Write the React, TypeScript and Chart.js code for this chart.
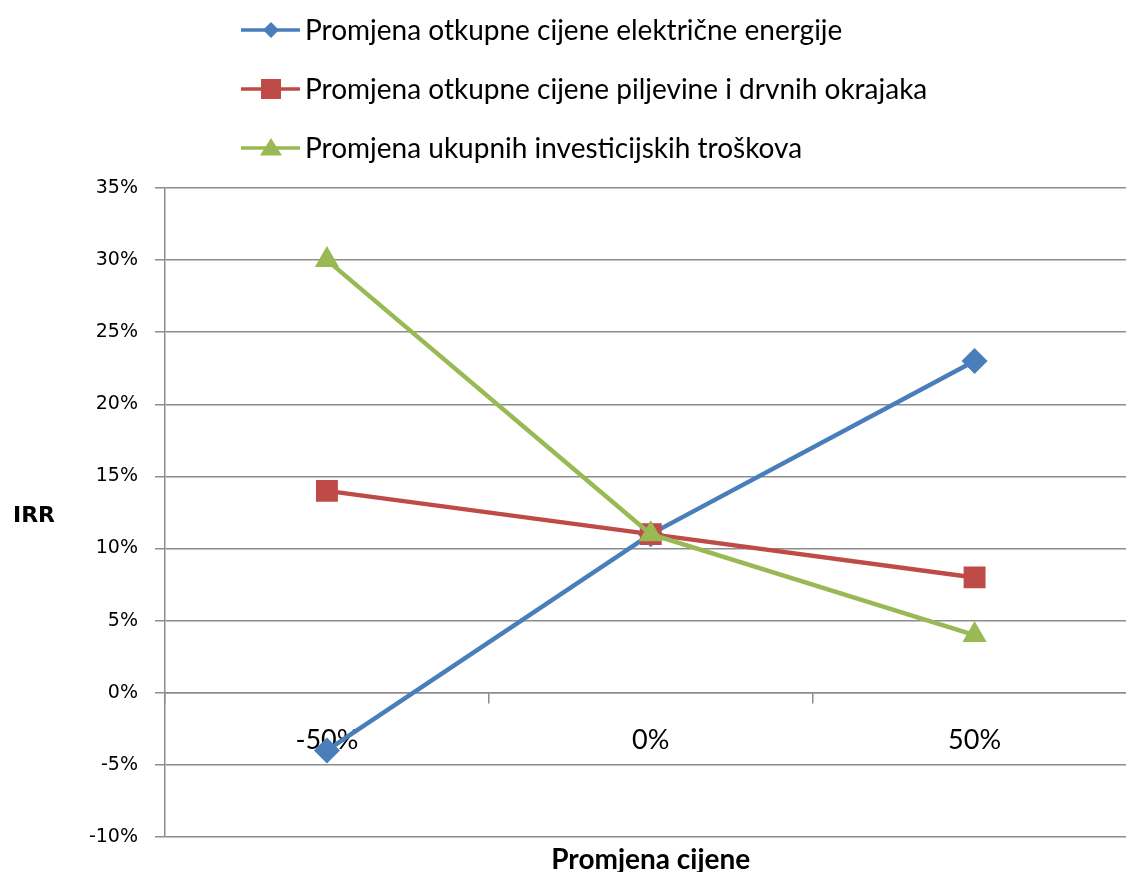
import React, { useEffect, useRef } from 'react';
import { Chart, registerables } from 'chart.js';

Chart.register(...registerables);

const categories: string[] = ['-50%', '0%', '50%'];
const seriesNames: string[] = [
  'Promjena otkupne cijene električne energije',
  'Promjena otkupne cijene piljevine i drvnih okrajaka',
  'Promjena ukupnih investicijskih troškova',
];
const electricityPrice: number[] = [-4, 11, 23];
const sawdustPrice: number[] = [14, 11, 8];
const investmentCost: number[] = [30, 11, 4];
const yMin = -10;
const yMax = 35;
const yStep = 5;
const yAxisTitle = 'IRR';
const xAxisTitle = 'Promjena cijene';

const BLUE = '#4a7ebb';
const RED = '#be4b48';
const GREEN = '#98b954';
const GRID = '#8c8c8c';

const LEGEND_FONT = '28px Lato, "Open Sans", sans-serif';

function drawMarker(ctx: CanvasRenderingContext2D, style: string, x: number, y: number, s: number, color: string) {
  ctx.save();
  ctx.fillStyle = color;
  ctx.beginPath();
  if (style === 'rectRot') {
    ctx.moveTo(x, y - s);
    ctx.lineTo(x + s, y);
    ctx.lineTo(x, y + s);
    ctx.lineTo(x - s, y);
  } else if (style === 'rect') {
    ctx.rect(x - s, y - s, 2 * s, 2 * s);
  } else {
    ctx.moveTo(x, y - s);
    ctx.lineTo(x + s * 1.1, y + s * 0.75);
    ctx.lineTo(x - s * 1.1, y + s * 0.75);
  }
  ctx.closePath();
  ctx.fill();
  ctx.restore();
}

const extrasPlugin = {
  id: 'extras',
  afterDraw(chart: any) {
    const ctx: CanvasRenderingContext2D = chart.ctx;
    const area = chart.chartArea;
    ctx.save();
    // custom vertical legend
    const legendLeft = 241;
    const legendTop = 30;
    const rowGap = 59;
    const styles = ['rectRot', 'rect', 'triangle'];
    const sizes = [8, 10, 10];
    chart.data.datasets.forEach((ds: any, i: number) => {
      const y = legendTop + i * rowGap;
      ctx.strokeStyle = ds.borderColor;
      ctx.lineWidth = 3.5;
      ctx.beginPath();
      ctx.moveTo(legendLeft, y);
      ctx.lineTo(legendLeft + 59, y);
      ctx.stroke();
      drawMarker(ctx, styles[i], legendLeft + 30, y, sizes[i], ds.borderColor);
      ctx.fillStyle = '#000';
      ctx.font = LEGEND_FONT;
      ctx.textAlign = 'left';
      ctx.textBaseline = 'middle';
      ctx.fillText(ds.label, legendLeft + 64, y + 1);
    });
    // y axis title (horizontal, Excel style)
    ctx.fillStyle = '#000';
    ctx.font = 'bold 22px "DejaVu Sans", sans-serif';
    ctx.textAlign = 'center';
    ctx.textBaseline = 'middle';
    ctx.fillText(yAxisTitle, 34, (area.top + area.bottom) / 2 + 4);
    // x axis title
    ctx.font = 'bold 28px Lato, "Open Sans", sans-serif';
    ctx.fillText(xAxisTitle, (area.left + area.right) / 2, 860);
    ctx.restore();
  },
};

export default function App() {
  const canvasRef = useRef<HTMLCanvasElement | null>(null);

  useEffect(() => {
    if (!canvasRef.current) return;
    const chart = new Chart(canvasRef.current, {
      type: 'line',
      data: {
        labels: categories,
        datasets: [
          {
            label: seriesNames[0],
            data: electricityPrice,
            borderColor: BLUE,
            backgroundColor: BLUE,
            borderWidth: 4.5,
            pointStyle: 'rectRot',
            pointRadius: 13,
            pointBorderWidth: 0,
            order: 3,
          },
          {
            label: seriesNames[1],
            data: sawdustPrice,
            borderColor: RED,
            backgroundColor: RED,
            borderWidth: 4.5,
            pointStyle: 'rect',
            pointRadius: 15.5,
            pointBorderWidth: 0,
            order: 2,
          },
          {
            label: seriesNames[2],
            data: investmentCost,
            borderColor: GREEN,
            backgroundColor: GREEN,
            borderWidth: 4.5,
            pointStyle: 'triangle',
            pointRadius: 14,
            pointBorderWidth: 0,
            order: 1,
          },
        ],
      },
      options: {
        animation: false,
        responsive: false,
        maintainAspectRatio: false,
        layout: { padding: { left: 0, right: 3, top: 188, bottom: 35 } },
        plugins: {
          legend: { display: false },
          tooltip: { enabled: false },
          title: { display: false },
        },
        scales: {
          x: {
            type: 'category',
            offset: true,
            position: { y: 0 } as any,
            grid: {
              drawOnChartArea: false,
              drawTicks: true,
              tickLength: 10,
              color: GRID,
              lineWidth: 1.5,
              offset: true,
            },
            border: { display: true, color: GRID, width: 1.5 },
            ticks: {
              padding: 21,
              color: '#000',
              font: { family: 'Lato, "Open Sans", sans-serif', size: 27 },
            },
          },
          y: {
            min: yMin,
            max: yMax,
            afterFit(scale: any) {
              scale.width = 165;
            },
            ticks: {
              stepSize: yStep,
              padding: 17,
              color: '#000',
              font: { family: '"DejaVu Sans", sans-serif', size: 19 },
              callback: (v: any) => `${v}%`,
            },
            grid: {
              color: GRID,
              lineWidth: 1.5,
              tickLength: 10,
              drawTicks: true,
            },
            border: { display: true, color: GRID, width: 1.5 },
          },
        },
      },
      plugins: [extrasPlugin],
    });
    return () => chart.destroy();
  }, []);

  return (
    <div style={{ position: 'fixed', left: 0, top: 0, width: 1126, height: 872, overflow: 'hidden', background: '#fff' }}>
      <canvas ref={canvasRef} width={1152} height={872} style={{ display: 'block', width: 1152, height: 872 }} />
    </div>
  );
}
